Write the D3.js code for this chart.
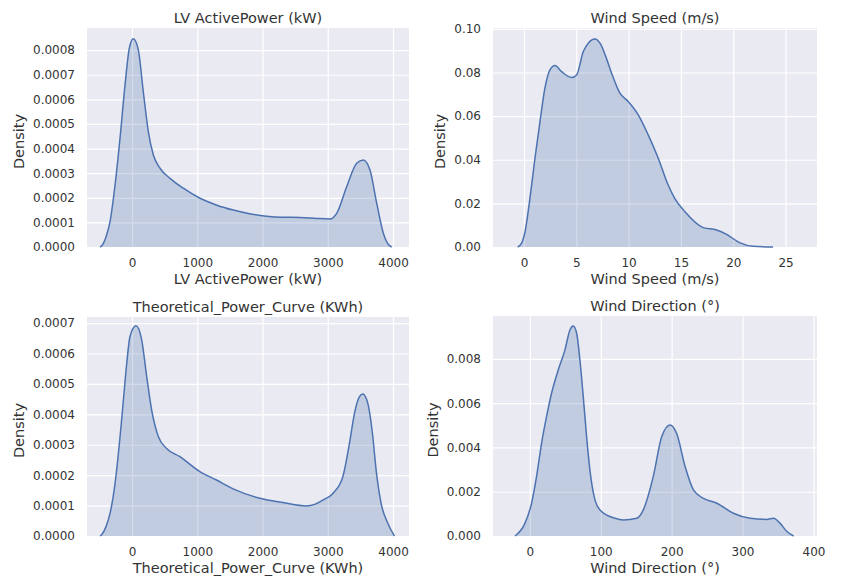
<!DOCTYPE html>
<html>
<head>
<meta charset="utf-8">
<script src="https://cdn.jsdelivr.net/npm/d3@7"></script>
<style>
  body { margin: 0; background: #fff; }
  text { font-family: "DejaVu Sans", sans-serif; fill: #333; }
  .tick text { font-size: 12px; }
  .title, .xlabel, .ylabel { font-size: 14.5px; }
</style>
</head>
<body>
<script>
// density curves, [value, density]
var activePower = [[-490, 0], [-465, 0.000005], [-400, 0.00004], [-337, 0.000103], [-260, 0.000252],
  [-184, 0.000442], [-107, 0.000659], [-41, 0.000808], [20, 0.000846], [97, 0.0008], [173, 0.000631],
  [250, 0.000469], [327, 0.000374], [429, 0.00032], [582, 0.000279], [786, 0.000239], [1042, 0.000198],
  [1300, 0.00017], [1553, 0.00015], [1800, 0.000135], [2064, 0.000125], [2300, 0.000121], [2575, 0.00012],
  [2830, 0.000116], [3034, 0.000114], [3137, 0.000137], [3290, 0.000245], [3443, 0.00034], [3545, 0.000354],
  [3647, 0.000313], [3750, 0.000178], [3852, 0.000056], [3930, 0.00001], [3980, 0]]

var windSpeed = [[-0.6, 0], [-0.2, 0.002], [0.1, 0.007], [0.57, 0.0223], [1.05, 0.0407], [1.53, 0.0575],
  [2.0, 0.0728], [2.48, 0.0812], [2.96, 0.0832], [3.6, 0.0804], [4.55, 0.0777], [5.03, 0.0789], [5.67, 0.0896],
  [6.2, 0.0938], [6.75, 0.0954], [7.3, 0.0932], [7.8, 0.0875], [8.37, 0.0797], [9.17, 0.0705], [9.96, 0.0667],
  [10.92, 0.0606], [11.87, 0.0514], [12.83, 0.0407], [13.78, 0.0284], [14.4, 0.0223], [15.38, 0.0162],
  [17.13, 0.0089], [18.4, 0.0078], [19.36, 0.0058], [20.6, 0.002], [21.9, 0.0003], [23.8, 0]]

var theoreticalPower = [[-490, 0], [-463, 0.000005], [-400, 0.00003], [-336, 0.000075], [-260, 0.000173],
  [-183, 0.000327], [-132, 0.000447], [-81, 0.000568], [-31, 0.000656], [61, 0.000691], [148, 0.000645],
  [225, 0.000524], [301, 0.000414], [403, 0.000327], [530, 0.000288], [734, 0.000261], [1040, 0.000212],
  [1294, 0.000184], [1550, 0.000155], [1958, 0.000124], [2314, 0.00011], [2671, 0.000099], [2800, 0.000104],
  [2925, 0.000118], [3078, 0.00014], [3231, 0.000195], [3333, 0.000305], [3410, 0.000404], [3486, 0.000458],
  [3537, 0.000467], [3613, 0.000437], [3690, 0.000327], [3741, 0.000217], [3817, 0.000108], [3920, 0.000042],
  [4021, 0]]

var windDirection = [[-21, 0], [-7, 0.00057], [2.4, 0.00148], [9.4, 0.00268], [16.5, 0.00419], [23.5, 0.00539],
  [30.6, 0.00645], [40, 0.0075], [49.4, 0.0084], [56.5, 0.00931], [61.2, 0.00949], [66, 0.00916],
  [70.6, 0.00795], [75.3, 0.0063], [80, 0.00449], [84.7, 0.00298], [91.8, 0.00163], [98.9, 0.00118],
  [120, 0.0008], [131.8, 0.00072], [150.7, 0.0008], [160, 0.00118], [174, 0.00268], [186, 0.00449],
  [197.7, 0.00502], [207, 0.00464], [219, 0.00313], [230.7, 0.00208], [244.8, 0.0017], [263.7, 0.00148],
  [287, 0.00103], [310.7, 0.0008], [334, 0.00075], [343.6, 0.0008], [353, 0.00057], [362.6, 0.0002], [372, 0]]

// tick values
var powerTicksX = [0, 1000, 2000, 3000, 4000]
var speedTicksX = [0, 5, 10, 15, 20, 25]
var directionTicksX = [0, 100, 200, 300, 400]
var activeTicksY = [0, 0.0001, 0.0002, 0.0003, 0.0004, 0.0005, 0.0006, 0.0007, 0.0008]
var speedTicksY = [0, 0.02, 0.04, 0.06, 0.08, 0.10]
var theoreticalTicksY = [0, 0.0001, 0.0002, 0.0003, 0.0004, 0.0005, 0.0006, 0.0007]
var directionTicksY = [0, 0.002, 0.004, 0.006, 0.008]

var titles = ["LV ActivePower (kW)", "Wind Speed (m/s)", "Theoretical_Power_Curve (KWh)", "Wind Direction (°)"]


function Panel(l, t, r, b) {
  this.left = l
  this.top = t
  this.right = r
  this.bottom = b
}

var svg = d3.select("body")
  .append("svg")
  .attr("width", 857)
  .attr("height", 584)

drawPanel(new Panel(87, 28, 409, 247), titles[0], activePower, [-690, 4245], [0, 0.00089],
  powerTicksX, activeTicksY, ".4f")
drawPanel(new Panel(493, 28, 817, 247), titles[1], windSpeed, [-2.96, 28.0], [0, 0.1004],
  speedTicksX, speedTicksY, ".2f")
drawPanel(new Panel(87, 317, 409, 536), titles[2], theoreticalPower, [-690, 4245], [0, 0.00072],
  powerTicksX, theoreticalTicksY, ".4f")
drawPanel(new Panel(493, 316, 817, 536), titles[3], windDirection, [-52, 405], [0, 0.00994],
  directionTicksX, directionTicksY, ".3f")


function drawPanel(p, title, data, xDom, yDom, xTicks, yTicks, yFmt)
{
  var x = d3.scaleLinear().domain(xDom).range([p.left, p.right])
  var y = d3.scaleLinear().domain(yDom).range([p.bottom, p.top])
  var g = svg.append("g")

  g.append("rect")
    .attr("x", p.left)
    .attr("y", p.top)
    .attr("width", p.right - p.left)
    .attr("height", p.bottom - p.top)
    .attr("fill", "#eaeaf2")

  // grid lines come from the axes
  var xAxis = g.append("g")
    .attr("class", "axis")
    .attr("transform", "translate(0," + p.bottom + ")")
    .call(d3.axisBottom(x).tickValues(xTicks).tickFormat(d3.format("d"))
      .tickSizeInner(-(p.bottom - p.top)).tickSizeOuter(0).tickPadding(11))
  var yAxis = g.append("g")
    .attr("class", "axis")
    .attr("transform", "translate(" + p.left + ",0)")
    .call(d3.axisLeft(y).tickValues(yTicks).tickFormat(d3.format(yFmt))
      .tickSizeInner(-(p.right - p.left)).tickSizeOuter(0).tickPadding(12))

  g.selectAll(".axis .domain").remove()
  g.selectAll(".axis line")
    .attr("stroke", "#fff")
    .attr("stroke-width", 1.2)

  var area = d3.area()
    .x(function(d) { return x(d[0]) })
    .y0(y(0))
    .y1(function(d) { return y(d[1]) })
    .curve(d3.curveMonotoneX)
  var line = d3.line()
    .x(function(d) { return x(d[0]) })
    .y(function(d) { return y(d[1]) })
    .curve(d3.curveMonotoneX)

  g.append("path")
    .datum(data)
    .attr("d", area)
    .attr("fill", "#4c72b0")
    .attr("fill-opacity", 0.25)
  g.append("path")
    .datum(data)
    .attr("d", line)
    .attr("fill", "none")
    .attr("stroke", "#4c72b0")
    .attr("stroke-width", 1.5)

  var cx = (p.left + p.right) / 2
  g.append("text")
    .attr("class", "title")
    .attr("x", cx)
    .attr("y", p.top - 5)
    .attr("text-anchor", "middle")
    .text(title)
  g.append("text")
    .attr("class", "xlabel")
    .attr("x", cx)
    .attr("y", p.bottom + 37)
    .attr("text-anchor", "middle")
    .text(title)

  // put Density left of the widest tick label
  var minX = d3.min(yAxis.selectAll("text").nodes(), function(n) { return n.getBBox().x }) + p.left
  var cy = (p.top + p.bottom) / 2 + 4
  g.append("text")
    .attr("class", "ylabel")
    .attr("transform", "translate(" + (minX - 9) + "," + cy + ") rotate(-90)")
    .attr("text-anchor", "middle")
    .text("Density")
}
</script>
</body>
</html>
